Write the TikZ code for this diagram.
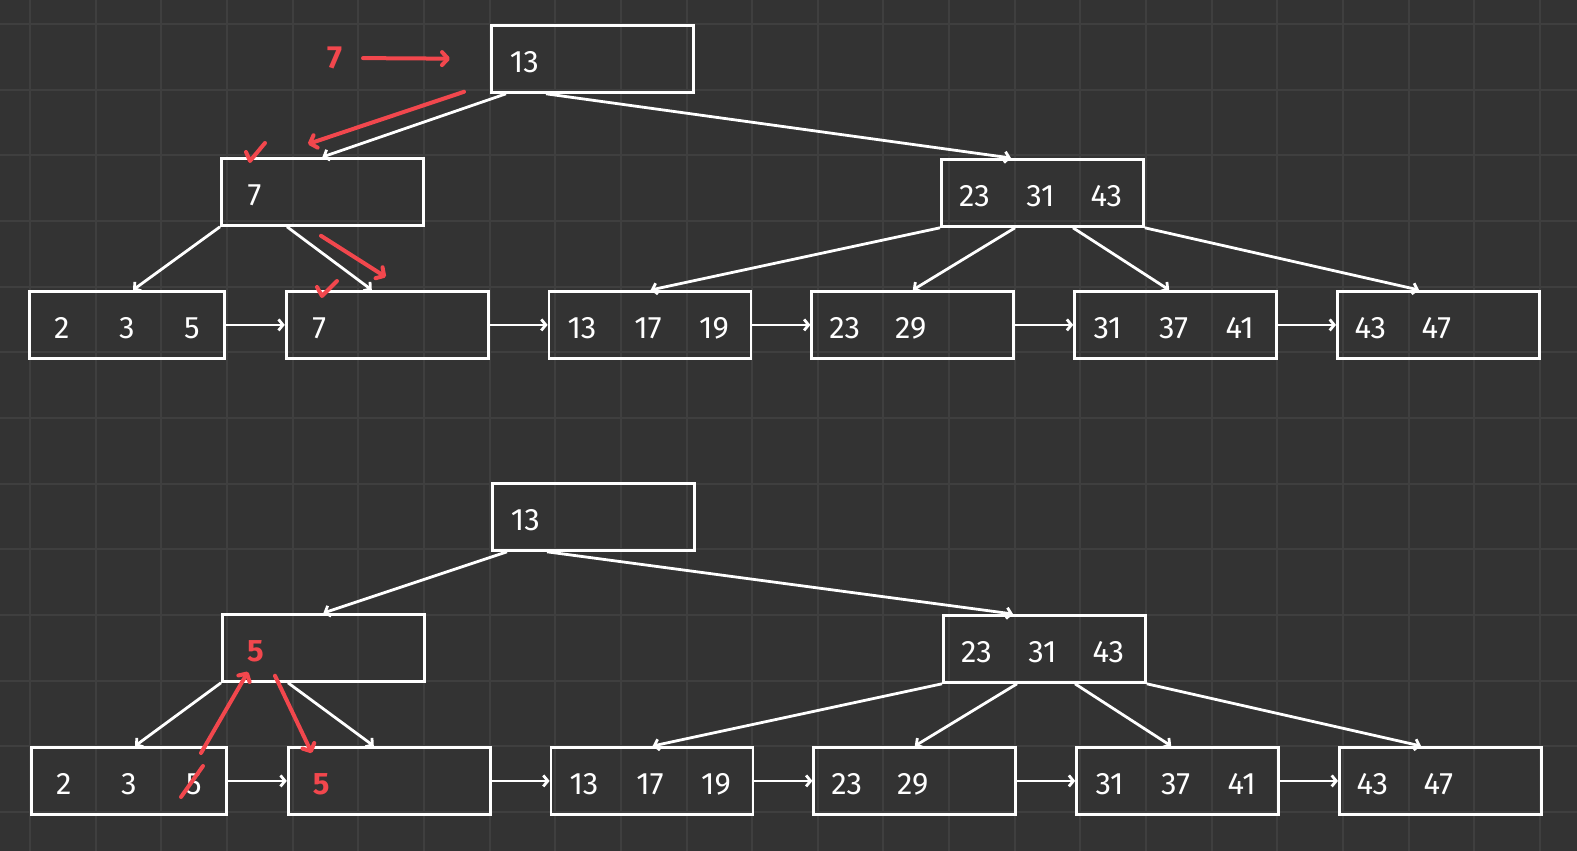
\documentclass[tikz,border=0pt]{standalone}
\usepackage{fontspec}
\setmainfont{Fira Sans}
\usetikzlibrary{positioning,arrows.meta}
\definecolor{bgcol}{HTML}{333333}
\definecolor{gridcol}{HTML}{3F3F3F}
\definecolor{redpen}{HTML}{F2474D}
\newcommand{\keyrow}[4][66pt]{\makebox[#1]{#2}\makebox[#1]{#3}\makebox[#1]{#4}}
\newcommand{\moved}[1]{\textcolor{redpen}{\bfseries #1}}
\begin{document}
\begin{tikzpicture}[x=1pt, y=-1pt, node distance=58pt,
    box/.style={draw=white, line width=2.8pt, minimum height=67pt, inner sep=0pt,
        text width=202pt, text height=28pt, text depth=0pt, align=left, text=white,
        font=\fontsize{31}{31}\selectfont, anchor=north west},
    link/.style={draw=white, line width=2.8pt, -{Straight Barb[length=4.5pt,width=11pt]}},
    redarrow/.style={draw=redpen, line width=4pt, line cap=round, -{Straight Barb[length=6pt,width=13pt,round]}},
    redline/.style={draw=redpen, line width=4pt, line cap=round, line join=round},
    newkey/.style={text=redpen, font=\fontsize{32}{32}\selectfont\bfseries}]
    \useasboundingbox (0,0) rectangle (1577,851);
    \fill [bgcol] (0,0) rectangle (1577,851);
    \foreach \i in {0,...,23}
        \draw [gridcol, line width=2pt] (30+65.65*\i,0) -- (30+65.65*\i,851);
    \foreach \j in {0,...,12}
        \draw [gridcol, line width=2pt] (0,24+65.65*\j) -- (1577,24+65.65*\j);

    % before: 7 goes into the leaf
    \node [box] (root) at (490,24) {\keyrow{13}{}{}};
    \node [box] (inner1) at (220,157) {\keyrow{7}{}{}};
    \node [box] (inner2) at (940,158) {\keyrow{23}{31}{43}};
    \node [box, text width=195pt] (leaf1) at (28,290) {\keyrow[65pt]{2}{3}{5}};
    \node [box, right=59pt of leaf1] (leaf2) {\keyrow{7}{}{}};
    \node [box, right=of leaf2] (leaf3) {\keyrow{13}{17}{19}};
    \node [box, right=of leaf3] (leaf4) {\keyrow{23}{29}{}};
    \node [box, right=of leaf4] (leaf5) {\keyrow{31}{37}{41}};
    \node [box, right=of leaf5] (leaf6) {\keyrow{43}{47}{}};

    \draw [link] ([xshift=16pt]root.south west) -- (inner1.north);
    \draw [link] ([xshift=56pt]root.south west) -- ([xshift=71pt]inner2.north west);
    \draw [link] (inner1.south west) -- ([xshift=105pt]leaf1.north west);
    \draw [link] ([xshift=67pt]inner1.south west) -- ([xshift=87pt]leaf2.north west);
    \draw [link] (inner2.south west) -- ([xshift=103pt]leaf3.north west);
    \draw [link] ([xshift=75pt]inner2.south west) -- (leaf4.north);
    \draw [link] ([xshift=133pt]inner2.south west) -- ([xshift=96pt]leaf5.north west);
    \draw [link] (inner2.south east) -- ([xshift=83pt]leaf6.north west);
    \foreach \a/\b in {leaf1/leaf2, leaf2/leaf3, leaf3/leaf4, leaf4/leaf5, leaf5/leaf6}
        \draw [link] (\a.east) -- (\b.west);

    \node [newkey] (ins) at (335,58) {7};
    \draw [redarrow, shorten <=17pt, shorten >=40pt] (ins.east) -- (root.west);
    \draw [redarrow] ([xshift=-26pt,yshift=2pt]root.south west) -- ([xshift=88pt,yshift=13pt]inner1.north west);
    \draw [redarrow] ([xshift=101pt,yshift=-9pt]inner1.south west) -- ([xshift=101pt,yshift=13pt]leaf2.north west);
    \draw [redline] (246,152) -- (250,161) -- (265,143);
    \draw [redline] (317,287) -- (322,296) -- (337,281);

    % after: 5 moves to the right leaf
    \node [box] (newroot) at (491,482) {\keyrow{13}{}{}};
    \node [box] (newinner1) at (221,613) {\keyrow{\moved{5}}{}{}};
    \node [box] (newinner2) at (942,614) {\keyrow{23}{31}{43}};
    \node [box, text width=195pt] (newleaf1) at (30,746) {\keyrow[65pt]{2}{3}{5}};
    \node [box, right=59pt of newleaf1] (newleaf2) {\keyrow{\moved{5}}{}{}};
    \node [box, right=of newleaf2] (newleaf3) {\keyrow{13}{17}{19}};
    \node [box, right=of newleaf3] (newleaf4) {\keyrow{23}{29}{}};
    \node [box, right=of newleaf4] (newleaf5) {\keyrow{31}{37}{41}};
    \node [box, right=of newleaf5] (newleaf6) {\keyrow{43}{47}{}};

    \draw [link] ([xshift=16pt]newroot.south west) -- (newinner1.north);
    \draw [link] ([xshift=56pt]newroot.south west) -- ([xshift=71pt]newinner2.north west);
    \draw [link] (newinner1.south west) -- ([xshift=105pt]newleaf1.north west);
    \draw [link] ([xshift=67pt]newinner1.south west) -- ([xshift=87pt]newleaf2.north west);
    \draw [link] (newinner2.south west) -- ([xshift=103pt]newleaf3.north west);
    \draw [link] ([xshift=75pt]newinner2.south west) -- (newleaf4.north);
    \draw [link] ([xshift=133pt]newinner2.south west) -- ([xshift=96pt]newleaf5.north west);
    \draw [link] (newinner2.south east) -- ([xshift=83pt]newleaf6.north west);
    \foreach \a/\b in {newleaf1/newleaf2, newleaf2/newleaf3, newleaf3/newleaf4, newleaf4/newleaf5, newleaf5/newleaf6}
        \draw [link] (\a.east) -- (\b.west);

    \draw [redline] (181,797) -- (203,766);
    \draw [redarrow] ([xshift=171pt,yshift=-7pt]newleaf1.north west) -- ([xshift=27pt,yshift=11pt]newinner1.south west);
    \draw [redarrow] ([xshift=54pt,yshift=7pt]newinner1.south west) -- ([xshift=25pt,yshift=-7pt]newleaf2.north west);
\end{tikzpicture}
\end{document}
